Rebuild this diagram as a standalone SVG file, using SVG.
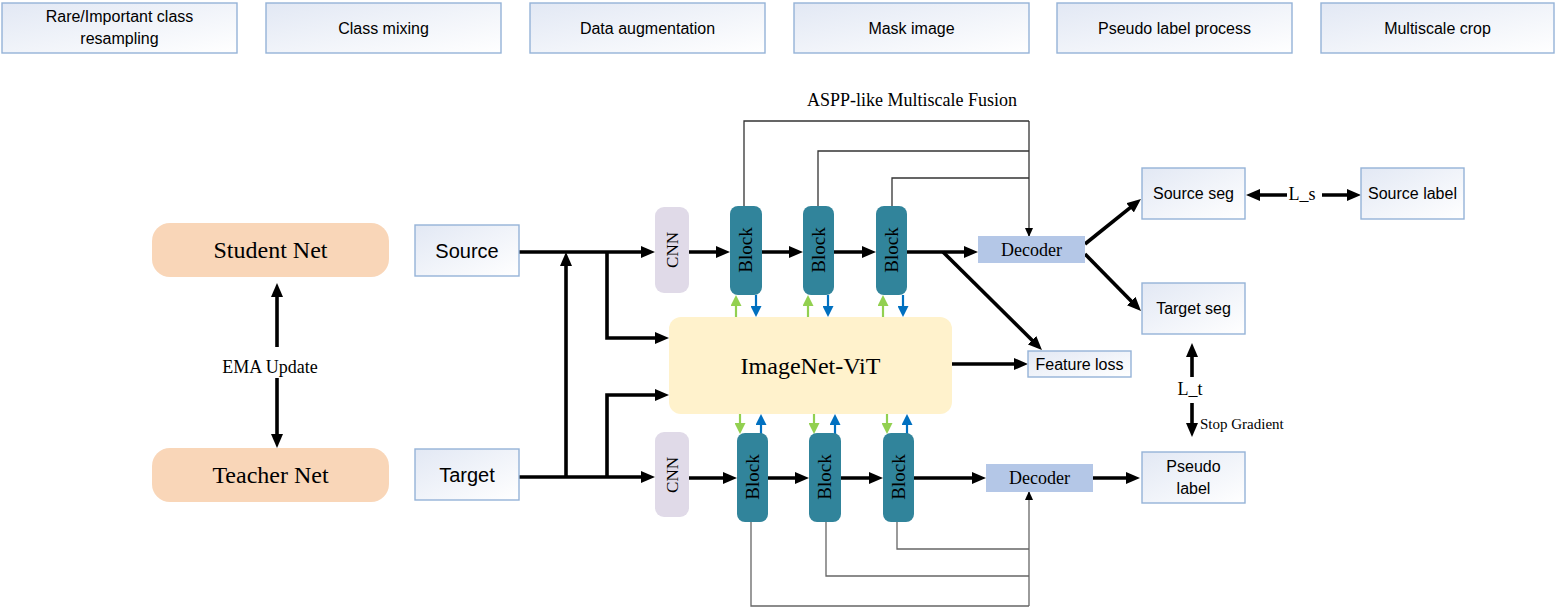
<svg xmlns="http://www.w3.org/2000/svg" width="1558" height="608" viewBox="0 0 1558 608">
<defs>
<linearGradient id="bg" x1="0" y1="0" x2="1" y2="1">
<stop offset="0" stop-color="#E2E8F4"/>
<stop offset="1" stop-color="#FFFFFF"/>
</linearGradient>
<marker id="ah" markerUnits="userSpaceOnUse" viewBox="0 0 14 12" markerWidth="14" markerHeight="12" refX="9" refY="6" orient="auto">
<path d="M0,0 L14,6 L0,12 z" fill="#000"/>
</marker>
<marker id="at" markerUnits="userSpaceOnUse" viewBox="0 0 9 8" markerWidth="9" markerHeight="8" refX="8" refY="4" orient="auto">
<path d="M0,0 L9,4 L0,8 z" fill="#000"/>
</marker>
<marker id="ag" markerUnits="userSpaceOnUse" viewBox="0 0 11 11" markerWidth="11" markerHeight="11" refX="8" refY="5.5" orient="auto">
<path d="M0,0 L11,5.5 L0,11 z" fill="#92D050"/>
</marker>
<marker id="ab" markerUnits="userSpaceOnUse" viewBox="0 0 11 11" markerWidth="11" markerHeight="11" refX="8" refY="5.5" orient="auto">
<path d="M0,0 L11,5.5 L0,11 z" fill="#0070C0"/>
</marker>
</defs>
<style>
.box{fill:url(#bg);stroke:#95B3D7;stroke-width:1.4}
.sans{font-family:"Liberation Sans",Arial,sans-serif;fill:#000}
.serif{font-family:"Liberation Serif","Times New Roman",serif;fill:#000}
.net{fill:#F9D6B8}
.blk{fill:#31849B}
.cnn{fill:#E0DAE8}
.dec{fill:#B4C7E7}
.vit{fill:#FFF2CC}
.thick{stroke:#000;stroke-width:3.6;fill:none;marker-end:url(#ah)}
.thin{stroke:#333;stroke-width:1.3;fill:none}
.thinb{stroke:#666;stroke-width:1.3;fill:none}
.g{stroke:#92D050;stroke-width:2.2;fill:none;marker-end:url(#ag)}
.b{stroke:#0070C0;stroke-width:2.2;fill:none;marker-end:url(#ab)}
</style>
<rect width="1558" height="608" fill="#fff"/>

<g id="top-boxes">
<g id="t1"><rect class="box" x="2" y="3" width="235" height="50"/><text class="sans" font-size="16" x="119.5" y="22" text-anchor="middle">Rare/Important class</text><text class="sans" font-size="16" x="119.5" y="44" text-anchor="middle">resampling</text></g>
<g id="t2"><rect class="box" x="266" y="3" width="235" height="50"/><text class="sans" font-size="16" x="383.5" y="34" text-anchor="middle">Class mixing</text></g>
<g id="t3"><rect class="box" x="530" y="3" width="235" height="50"/><text class="sans" font-size="16" x="647.5" y="34" text-anchor="middle">Data augmentation</text></g>
<g id="t4"><rect class="box" x="794" y="3" width="235" height="50"/><text class="sans" font-size="16" x="911.5" y="34" text-anchor="middle">Mask image</text></g>
<g id="t5"><rect class="box" x="1057" y="3" width="235" height="50"/><text class="sans" font-size="16" x="1174.5" y="34" text-anchor="middle">Pseudo label process</text></g>
<g id="t6"><rect class="box" x="1321" y="3" width="233" height="50"/><text class="sans" font-size="16" x="1437.5" y="34" text-anchor="middle">Multiscale crop</text></g>
</g>

<g id="connectors">
<line class="thick" x1="277" y1="347" x2="277" y2="288" stroke-width="3"/>
<line class="thick" x1="277" y1="378" x2="277" y2="443" stroke-width="3"/>
<line class="thick" x1="519" y1="252" x2="650" y2="252"/>
<line class="thick" x1="519" y1="477" x2="650" y2="477"/>
<line class="thick" x1="566" y1="477" x2="566" y2="257"/>
<polyline class="thick" points="607,252 607,338 664,338"/>
<polyline class="thick" points="607,477 607,395 664,395"/>
<line class="thick" x1="689" y1="252" x2="725" y2="252"/>
<line class="thick" x1="762" y1="252" x2="798" y2="252"/>
<line class="thick" x1="834" y1="252" x2="871" y2="252"/>
<line class="thick" x1="907" y1="252" x2="973" y2="252"/>
<line class="thick" x1="943" y1="252" x2="1038.4" y2="346.5"/>
<line class="thick" x1="952" y1="364" x2="1023" y2="364"/>
<line class="thick" x1="1085" y1="244" x2="1137.1" y2="202.1"/>
<line class="thick" x1="1085" y1="254" x2="1137.5" y2="307.4"/>
<line class="thick" x1="689" y1="478" x2="732" y2="478"/>
<line class="thick" x1="768" y1="478" x2="804" y2="478"/>
<line class="thick" x1="841" y1="478" x2="878" y2="478"/>
<line class="thick" x1="914" y1="478" x2="981" y2="478"/>
<line class="thick" x1="1093" y1="478" x2="1135" y2="478"/>
<line class="thick" x1="1287" y1="195" x2="1251" y2="195" stroke-width="3"/>
<line class="thick" x1="1322" y1="195" x2="1356" y2="195" stroke-width="3"/>
<line class="thick" x1="1192" y1="377" x2="1192" y2="348" stroke-width="3"/>
<line class="thick" x1="1192" y1="403" x2="1192" y2="432" stroke-width="3"/>
<polyline class="thin" points="744,206 744,121 1029,121"/>
<polyline class="thin" points="818,206 818,151 1029,151"/>
<polyline class="thin" points="892,206 892,178 1029,178"/>
<line class="thin" x1="1029" y1="121" x2="1029" y2="236" marker-end="url(#at)"/>
<polyline class="thinb" points="897,522 897,549 1029,549"/>
<polyline class="thinb" points="826,522 826,576 1029,576"/>
<polyline class="thinb" points="751,522 751,606 1029,606"/>
<line class="thinb" x1="1029" y1="606" x2="1029" y2="492" marker-end="url(#at)"/>
<line class="g" x1="736" y1="317" x2="736" y2="298"/>
<line class="b" x1="756" y1="295" x2="756" y2="314"/>
<line class="g" x1="808" y1="317" x2="808" y2="298"/>
<line class="b" x1="828" y1="295" x2="828" y2="314"/>
<line class="g" x1="883" y1="317" x2="883" y2="298"/>
<line class="b" x1="903" y1="295" x2="903" y2="314"/>
<line class="g" x1="740" y1="414" x2="740" y2="431"/>
<line class="b" x1="761" y1="434" x2="761" y2="417"/>
<line class="g" x1="814" y1="414" x2="814" y2="431"/>
<line class="b" x1="835" y1="434" x2="835" y2="417"/>
<line class="g" x1="887" y1="414" x2="887" y2="431"/>
<line class="b" x1="907" y1="434" x2="907" y2="417"/>
</g>

<g id="student"><rect class="net" x="152" y="223" width="237" height="54" rx="18"/><text class="serif" font-size="24" x="270.5" y="258" text-anchor="middle">Student Net</text></g>
<g id="teacher"><rect class="net" x="152" y="448" width="237" height="54" rx="18"/><text class="serif" font-size="24" x="270.5" y="483" text-anchor="middle">Teacher Net</text></g>
<g id="ema-label"><text class="serif" font-size="18" x="270" y="373" text-anchor="middle">EMA Update</text></g>

<g id="source"><rect class="box" x="415" y="225" width="104" height="51"/><text class="sans" font-size="20" x="467" y="258" text-anchor="middle">Source</text></g>
<g id="target"><rect class="box" x="415" y="449" width="104" height="51"/><text class="sans" font-size="20" x="467" y="482" text-anchor="middle">Target</text></g>

<g id="cnn-s"><rect class="cnn" x="655" y="207" width="34" height="86" rx="9"/><text class="serif" font-size="17" transform="translate(672,250) rotate(-90)" x="0" y="6" text-anchor="middle">CNN</text></g>
<g id="cnn-t"><rect class="cnn" x="655" y="432" width="34" height="85" rx="9"/><text class="serif" font-size="17" transform="translate(672,475) rotate(-90)" x="0" y="6" text-anchor="middle">CNN</text></g>

<g id="block-s1"><rect class="blk" x="730" y="206" width="32" height="89" rx="8"/><text class="serif" font-size="19" transform="translate(746,250) rotate(-90)" x="0" y="6" text-anchor="middle">Block</text></g>
<g id="block-s2"><rect class="blk" x="803" y="206" width="31" height="89" rx="8"/><text class="serif" font-size="19" transform="translate(818.5,250) rotate(-90)" x="0" y="6" text-anchor="middle">Block</text></g>
<g id="block-s3"><rect class="blk" x="876" y="206" width="31" height="89" rx="8"/><text class="serif" font-size="19" transform="translate(891.5,250) rotate(-90)" x="0" y="6" text-anchor="middle">Block</text></g>

<g id="block-t1"><rect class="blk" x="737" y="433" width="31" height="89" rx="8"/><text class="serif" font-size="19" transform="translate(752.5,477) rotate(-90)" x="0" y="6" text-anchor="middle">Block</text></g>
<g id="block-t2"><rect class="blk" x="809" y="433" width="32" height="89" rx="8"/><text class="serif" font-size="19" transform="translate(825,477) rotate(-90)" x="0" y="6" text-anchor="middle">Block</text></g>
<g id="block-t3"><rect class="blk" x="883" y="433" width="31" height="89" rx="8"/><text class="serif" font-size="19" transform="translate(898.5,477) rotate(-90)" x="0" y="6" text-anchor="middle">Block</text></g>

<g id="vit"><rect class="vit" x="669" y="317" width="283" height="97" rx="12"/><text class="serif" font-size="24" x="810.5" y="374" text-anchor="middle">ImageNet-ViT</text></g>

<g id="decoder-s"><rect class="dec" x="978" y="236" width="107" height="27"/><text class="serif" font-size="18" x="1031.5" y="256" text-anchor="middle">Decoder</text></g>
<g id="decoder-t"><rect class="dec" x="986" y="464" width="107" height="28"/><text class="serif" font-size="18" x="1039.5" y="484" text-anchor="middle">Decoder</text></g>

<g id="aspp-label"><text class="serif" font-size="18" x="912" y="106" text-anchor="middle">ASPP-like Multiscale Fusion</text></g>

<g id="feature-loss"><rect class="box" x="1028" y="351" width="103" height="26"/><text class="sans" font-size="16" x="1079.5" y="370" text-anchor="middle">Feature loss</text></g>
<g id="source-seg"><rect class="box" x="1142" y="168" width="103" height="51"/><text class="sans" font-size="16" x="1193.5" y="199" text-anchor="middle">Source seg</text></g>
<g id="source-label"><rect class="box" x="1361" y="168" width="103" height="51"/><text class="sans" font-size="16" x="1412.5" y="199" text-anchor="middle">Source label</text></g>
<g id="target-seg"><rect class="box" x="1142" y="283" width="103" height="51"/><text class="sans" font-size="16" x="1193.5" y="314" text-anchor="middle">Target seg</text></g>
<g id="pseudo-label"><rect class="box" x="1142" y="452" width="103" height="51"/><text class="sans" font-size="16" x="1193.5" y="472" text-anchor="middle">Pseudo</text><text class="sans" font-size="16" x="1193.5" y="494" text-anchor="middle">label</text></g>

<g id="loss-labels">
<text class="serif" font-size="18" x="1302" y="200" text-anchor="middle">L_s</text>
<text class="serif" font-size="18" x="1190" y="395" text-anchor="middle">L_t</text>
<text class="serif" font-size="15" x="1200" y="429">Stop Gradient</text>
</g>
</svg>
